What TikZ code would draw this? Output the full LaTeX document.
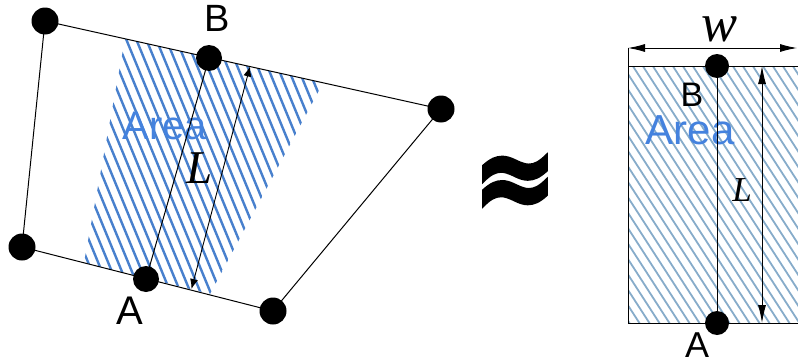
\documentclass[tikz,border=0pt]{standalone}
\usepackage{fontspec}
\setmainfont{Liberation Sans}
\newfontfamily\serifit{Liberation Serif}[ItalicFont=* Italic]
\newfontfamily\symfont{DejaVu Sans Bold}[FakeBold=3]
\usetikzlibrary{arrows.meta}
\definecolor{hatchL}{RGB}{72,128,205}
\definecolor{hatchR}{RGB}{135,172,202}
\definecolor{areablue}{RGB}{68,130,222}
\tikzset{
  dot/.style={circle,fill=black,inner sep=0pt,minimum size=#1},
  edge/.style={draw=black,line width=1pt},
  dim/.style={draw=black,line width=0.9pt,{Latex[length=#1,width=8pt]}-{Latex[length=#1,width=8pt]}},
  lbl/.style={inner sep=0pt,font=\fontsize{38}{40}\selectfont},
  arealbl/.style={inner sep=0pt,text=areablue},
  ital/.style={inner sep=0pt,font=\serifit\itshape}
}
\begin{document}
\begin{tikzpicture}[x=1pt,y=-1pt]
\useasboundingbox (0,0) rectangle (798,364);
% ---------- left figure ----------
\coordinate (TL) at (45,21);
\coordinate (TR) at (441,109);
\coordinate (BR) at (273,311);
\coordinate (BL) at (22,247);
\coordinate (Bc) at (209,58);
\coordinate (Ac) at (146,279);
% hatched strip
\begin{scope}
  \clip (125,39) -- (323,83) -- (210,294) -- (84,262.5) -- cycle;
  \foreach \i in {-200,-190,...,420}
    \draw[hatchL,line width=2.4pt] (\i,0) -- ++(150,364);
\end{scope}
\node[arealbl,font=\fontsize{40}{42}\selectfont] (arL) at (165,126) {Area};
\draw[edge] (TL) -- (TR) -- (BR) -- (BL) -- cycle;
\draw[edge] (Ac) -- (Bc);
\coordinate (Lb) at (191.5,289);
\coordinate (Lt) at (250,66.5);
\draw[dim=10pt] (Lb) -- (Lt);
\node[ital,font=\serifit\itshape\fontsize{47}{49}\selectfont] (LL) at (200,168) {L};
\node[dot=27pt] (dTL) at (TL) {};
\node[dot=27pt] (dTR) at (TR) {};
\node[dot=27pt] (dBR) at (BR) {};
\node[dot=27pt] (dBL) at (BL) {};
\node[dot=26pt] (dB) at (Bc) {};
\node[dot=26pt] (dA) at (Ac) {};
\node[lbl] (labB) at (217,18) {B};
\node[lbl,font=\fontsize{40}{42}\selectfont] (labA) at (130,311) {A};
% ---------- approx sign ----------
\node[inner sep=0pt,font=\symfont\fontsize{100}{100}\selectfont] (approx) at (515,187) {\scalebox{1}[1.2]{≈}};
% ---------- right figure ----------
\coordinate (R1) at (628,66);
\coordinate (R2) at (800,323);
\begin{scope}
  \clip (R1) rectangle (R2);
  \foreach \i in {400,410,...,900}
    \draw[hatchR,line width=1.8pt] (\i,0) -- ++(236,364);
\end{scope}
\node[arealbl,font=\fontsize{42}{44}\selectfont] (arR) at (690,130) {Area};
\draw[edge] (R1) rectangle (R2);
\coordinate (B2) at (717,66);
\coordinate (A2) at (717,323);
\draw[edge] (A2) -- (B2);
\coordinate (Wl) at (628,48);
\coordinate (Wr) at (797,48);
\draw[edge] (Wl) -- (R1);
\draw[dim=17pt] (Wl) -- (Wr);
\coordinate (L2t) at (762,66);
\coordinate (L2b) at (762,323);
\draw[dim=18pt] (L2t) -- (L2b);
\node[dot=24pt] (dB2) at (B2) {};
\node[dot=24pt] (dA2) at (A2) {};
\node[ital,font=\serifit\itshape\fontsize{54}{56}\selectfont] (labW) at (720,29) {w};
\node[ital,font=\serifit\itshape\fontsize{35}{37}\selectfont] (LR) at (742,190) {L};
\node[lbl,font=\fontsize{34}{36}\selectfont] (labB2) at (692,95) {B};
\node[lbl,font=\fontsize{36}{38}\selectfont] (labA2) at (697,345) {A};
\end{tikzpicture}
\end{document}
